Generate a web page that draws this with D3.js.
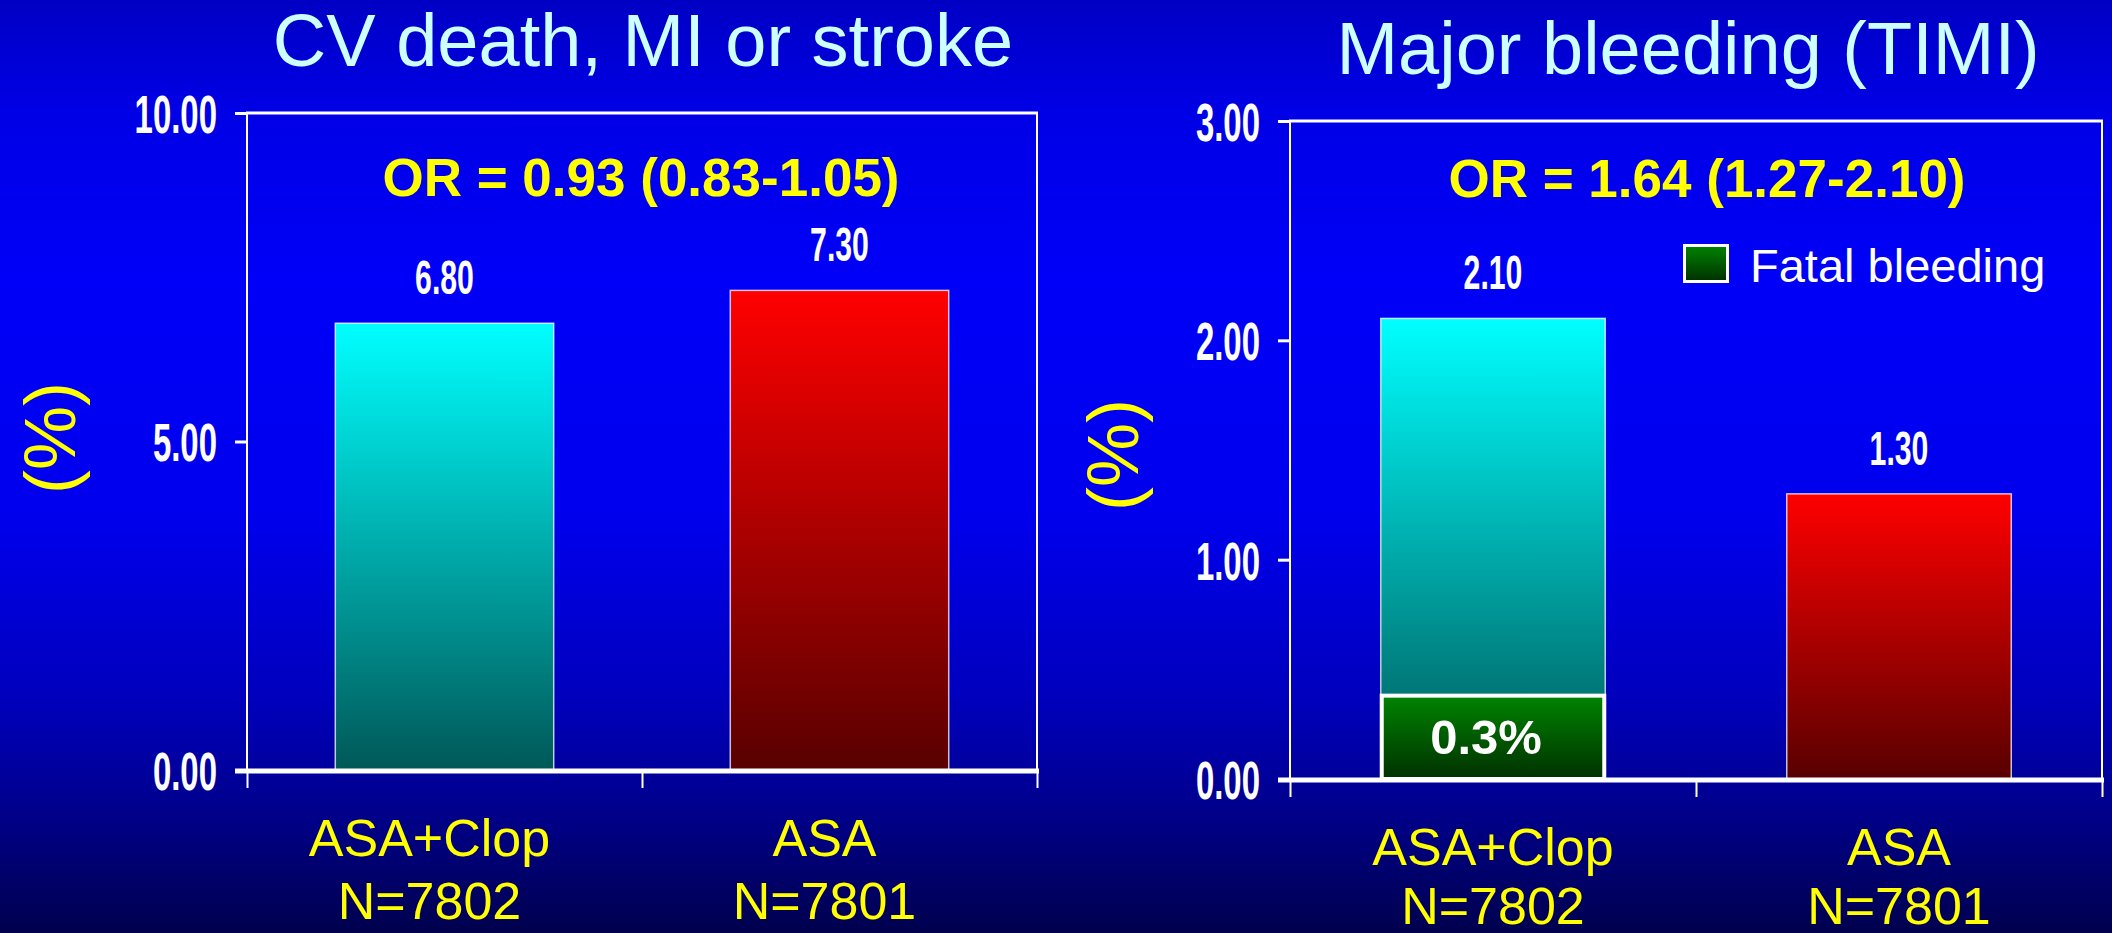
<!DOCTYPE html>
<html><head><meta charset="utf-8">
<script src="https://cdn.jsdelivr.net/npm/d3@7/dist/d3.min.js"></script>
<style>html,body{margin:0;padding:0;background:#000080;overflow:hidden}</style>
</head><body>
<svg id="c" width="2112" height="933"></svg>
<script>
// ---------- data ----------
const categories = ["ASA+Clop", "ASA"];
const categorySubLabels = ["N=7802", "N=7801"];
const cvValues = [6.80, 7.30];
const bleedValues = [2.10, 1.30];
const fatalValues = [0.38];          // fatal bleeding segment (ASA+Clop), as drawn
const fatalLabels = ["0.3%"];
const cvTicks = [0, 5, 10];
const bleedTicks = [0, 1, 2, 3];
const titles = ["CV death, MI or stroke", "Major bleeding (TIMI)"];
const orTexts = ["OR = 0.93 (0.83-1.05)", "OR = 1.64 (1.27-2.10)"];
const legendLabels = ["Fatal bleeding"];
const yLabel = "(%)";

// ---------- layout ----------
const FONT = "'Liberation Sans', Arial, Helvetica, sans-serif";
const svg = d3.select("#c");
const defs = svg.append("defs");

function lg(id, stops) {
  const g = defs.append("linearGradient").attr("id", id)
    .attr("x1", 0).attr("y1", 0).attr("x2", 0).attr("y2", 1);
  stops.forEach(([o, c]) => g.append("stop").attr("offset", o).attr("stop-color", c));
}
lg("bg", [[0, "#0000c4"], [0.12, "#0000e6"], [0.3, "#0000f8"], [0.55, "#0000ee"], [0.75, "#0000bc"], [0.86, "#000090"], [1, "#00004e"]]);
lg("teal", [[0, "#00ffff"], [1, "#005858"]]);
lg("red", [[0, "#ff0000"], [1, "#580000"]]);
lg("green", [[0, "#008400"], [1, "#003000"]]);

svg.append("rect").attr("width", 2112).attr("height", 933).attr("fill", "url(#bg)");

const charts = [
  { title: titles[0], titleX: 643, titleY: 66, values: cvValues, ticks: cvTicks, domain: [0, 10],
    xr: [247, 1037], yr: [770, 113], or: orTexts[0], orShift: -1, orY: 196,
    ylx: 75, yly: 438, catShift: -15, fatal: null },
  { title: titles[1], titleX: 1688, titleY: 74, values: bleedValues, ticks: bleedTicks, domain: [0, 3],
    xr: [1290, 2102], yr: [779, 121], or: orTexts[1], orShift: 11, orY: 197,
    ylx: 1138, yly: 455, catShift: 0, fatal: fatalValues }
];
const fills = ["url(#teal)", "url(#red)"];

charts.forEach((c, ci) => {
  const g = svg.append("g");
  const x = d3.scaleBand().domain(categories).range(c.xr).paddingInner(0.447).paddingOuter(0.2235);
  const y = d3.scaleLinear().domain(c.domain).range(c.yr);
  const xb = d3.scaleLinear().domain([0, categories.length]).range(c.xr);

  // title
  g.append("text").attr("x", c.titleX).attr("y", c.titleY).attr("text-anchor", "middle")
    .attr("font-family", FONT).attr("font-size", 74).attr("fill", "#ccffff").text(c.title);

  // y label
  g.append("text").attr("transform", `translate(${c.ylx},${c.yly}) rotate(-90)`)
    .attr("text-anchor", "middle").attr("font-family", FONT).attr("font-size", 72)
    .attr("fill", "#ffff00").text(yLabel);

  // bars
  g.selectAll("rect.bar").data(c.values).join("rect").attr("class", "bar")
    .attr("x", (d, i) => x(categories[i])).attr("width", x.bandwidth())
    .attr("y", d => y(d)).attr("height", d => y(0) - y(d))
    .attr("fill", (d, i) => fills[i]).attr("stroke", "#ffffff").attr("stroke-opacity", 0.75)
    .attr("stroke-width", 1.5);

  // fatal segment
  if (c.fatal) {
    g.selectAll("rect.fatal").data(c.fatal).join("rect").attr("class", "fatal")
      .attr("x", (d, i) => x(categories[i]) + 1).attr("width", x.bandwidth() - 2)
      .attr("y", d => y(d)).attr("height", d => y(0) - y(d))
      .attr("fill", "url(#green)").attr("stroke", "#ffffff").attr("stroke-width", 4);
    g.selectAll("text.fatal").data(c.fatal).join("text").attr("class", "fatal")
      .attr("x", (d, i) => x(categories[i]) + x.bandwidth() / 2 - 7)
      .attr("y", d => (y(d) + y(0)) / 2 + 17)
      .attr("text-anchor", "middle").attr("font-family", FONT).attr("font-weight", "bold")
      .attr("font-size", 49).attr("fill", "#ffffff").text((d, i) => fatalLabels[i]);
  }

  // value labels (condensed)
  g.selectAll("g.vl").data(c.values).join("g").attr("class", "vl")
    .attr("transform", (d, i) => `translate(${x(categories[i]) + x.bandwidth() / 2},${y(d) - 29}) scale(0.63,1)`)
    .append("text").attr("text-anchor", "middle").attr("font-family", FONT).attr("font-weight", "bold")
    .attr("font-size", 48).attr("fill", "#ffffff").text(d => d3.format(".2f")(d));

  // frame
  const [x0, x1] = c.xr, [yb, yt] = c.yr;
  g.append("line").attr("x1", x0).attr("x2", x0).attr("y1", yt).attr("y2", yb).attr("stroke", "#fff").attr("stroke-width", 2);
  g.append("line").attr("x1", x1).attr("x2", x1).attr("y1", yt).attr("y2", yb).attr("stroke", "#fff").attr("stroke-width", 2);
  g.append("line").attr("x1", x0 - 1).attr("x2", x1 + 1).attr("y1", yt).attr("y2", yt).attr("stroke", "#fff").attr("stroke-width", 3);

  // y axis
  const ya = g.append("g").attr("transform", `translate(${x0},0)`)
    .call(d3.axisLeft(y).tickValues(c.ticks).tickFormat(d3.format(".2f")).tickSize(12).tickSizeOuter(0));
  ya.select(".domain").remove();
  ya.selectAll(".tick line").attr("stroke", "#fff").attr("stroke-width", 3);
  const s = 0.61;
  ya.selectAll(".tick text").attr("fill", "#fff").attr("font-family", FONT).attr("font-weight", "bold")
    .attr("font-size", 54).attr("x", -30 / s).attr("dy", "0.36em").attr("transform", `scale(${s},1)`);

  // x axis (boundary ticks)
  const xa = g.append("g").attr("transform", `translate(0,${yb})`)
    .call(d3.axisBottom(xb).tickValues(d3.range(categories.length + 1)).tickFormat("").tickSize(18).tickSizeOuter(0));
  xa.select(".domain").remove();
  xa.selectAll(".tick line").attr("stroke", "#fff").attr("stroke-width", 2);
  g.append("line").attr("x1", x0 - 12).attr("x2", x1 + 2).attr("y1", yb + 1).attr("y2", yb + 1)
    .attr("stroke", "#fff").attr("stroke-width", 5);

  // category labels
  const cl = g.selectAll("text.cat").data(categories).join("text").attr("class", "cat")
    .attr("x", d => x(d) + x.bandwidth() / 2 + c.catShift).attr("text-anchor", "middle")
    .attr("font-family", FONT).attr("font-size", 52).attr("fill", "#ffff00");
  cl.append("tspan").attr("x", d => x(d) + x.bandwidth() / 2 + c.catShift).attr("y", yb + 86).text(d => d);
  cl.append("tspan").attr("x", d => x(d) + x.bandwidth() / 2 + c.catShift).attr("y", Math.min(yb + 149, 924)).text((d, i) => categorySubLabels[i]);

  // OR text
  g.append("text").attr("x", (x0 + x1) / 2 + c.orShift).attr("y", c.orY).attr("text-anchor", "middle")
    .attr("font-family", FONT).attr("font-weight", "bold").attr("font-size", 53).attr("fill", "#ffff00").text(c.or);

  // legend
  if (c.fatal) {
    const lgG = g.append("g").attr("transform", `translate(${x1 - 419},244)`);
    lgG.append("rect").attr("x", 1.5).attr("y", 1.5).attr("width", 43).attr("height", 36)
      .attr("fill", "url(#green)").attr("stroke", "#fff").attr("stroke-width", 3);
    lgG.append("text").attr("x", 67).attr("y", 38).attr("font-family", FONT).attr("font-size", 47)
      .attr("fill", "#fff").text(legendLabels[0]);
  }
});
</script>
</body></html>
